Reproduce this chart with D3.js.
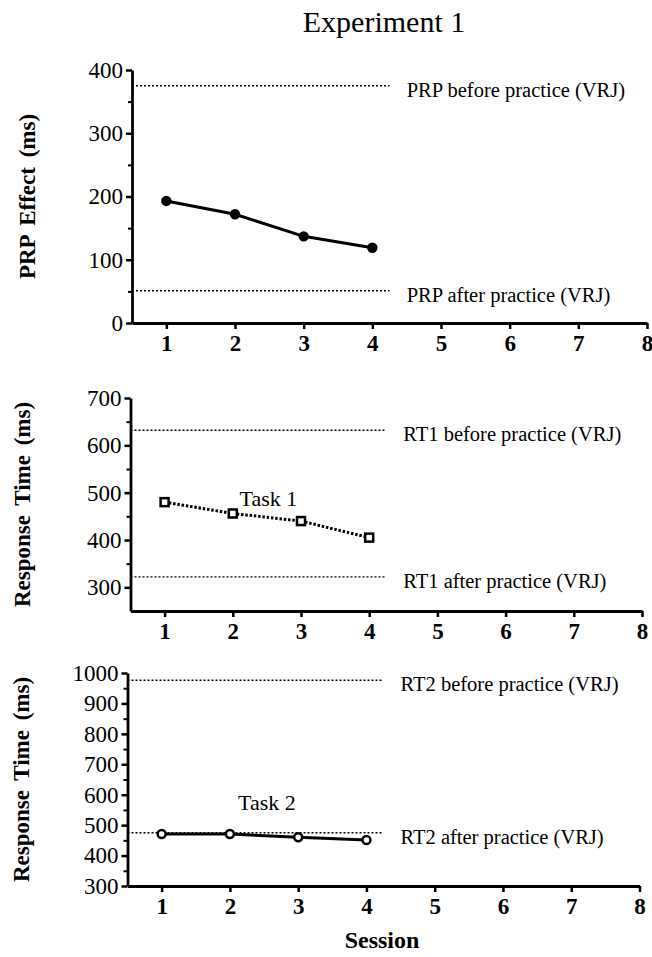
<!DOCTYPE html>
<html><head><meta charset="utf-8">
<script src="https://cdn.jsdelivr.net/npm/d3@7"></script>
<style>
body{margin:0;background:#fff;}
svg, svg text{font-family:"Liberation Serif","Times New Roman",serif !important;}
</style></head>
<body>
<svg id="chart" width="652" height="957"></svg>
<script>
// ---- data ----
const sessions = [1, 2, 3, 4];
const xTicks = [1, 2, 3, 4, 5, 6, 7, 8];
const prpEffect = [193, 172, 137, 119];
const rt1 = [480, 456, 440, 405];
const rt2 = [471, 471, 460, 451];
const prpRef = [375, 51];
const rt1Ref = [632, 322];
const rt2Ref = [976, 475];
const prpRefLabels = ["PRP before practice (VRJ)", "PRP after practice (VRJ)"];
const rt1RefLabels = ["RT1 before practice (VRJ)", "RT1 after practice (VRJ)"];
const rt2RefLabels = ["RT2 before practice (VRJ)", "RT2 after practice (VRJ)"];
const prpTicks = [0, 100, 200, 300, 400];
const rt1Ticks = [300, 400, 500, 600, 700];
const rt2Ticks = [300, 400, 500, 600, 700, 800, 900, 1000];

const svg = d3.select("#chart");

svg.append("text").attr("x", 384).attr("y", 32).attr("text-anchor", "middle")
  .attr("font-size", 30).text("Experiment 1");

function panel(cfg) {
  const x = d3.scaleLinear().domain([0.5, 8]).range([cfg.left, cfg.right]);
  const y = d3.scaleLinear().domain(cfg.yDomain).range([cfg.bottom, cfg.top]);
  const g = svg.append("g");

  // reference lines
  cfg.refs.forEach((v, i) => {
    g.append("line").attr("x1", x(0.5)).attr("x2", x(4.25))
      .attr("y1", y(v)).attr("y2", y(v))
      .attr("stroke", "#000").attr("stroke-width", 1.4).attr("stroke-dasharray", "2,2");
    g.append("text").attr("x", x(4.5)).attr("y", y(v) + 11)
      .attr("font-size", 20.5).text(cfg.refLabels[i]);
  });

  // minor ticks
  const minor = d3.range(cfg.yDomain[0], cfg.yDomain[1], 50).filter(v => v % 100 !== 0 && v > cfg.yDomain[0]);
  const minorAxis = d3.axisLeft(y).tickValues(minor).tickSize(4).tickFormat("").tickSizeOuter(0);
  const ma = g.append("g").attr("transform", `translate(${cfg.left},0)`).call(minorAxis);
  ma.select(".domain").remove();
  ma.selectAll("line").attr("stroke-width", 2);

  // y axis
  const ya = g.append("g").attr("transform", `translate(${cfg.left},0)`)
    .call(d3.axisLeft(y).tickValues(cfg.yTicks).tickFormat(d3.format("d"))
      .tickSize(6).tickPadding(3).tickSizeOuter(0));
  ya.select(".domain").attr("stroke-width", 2.8);
  ya.selectAll(".tick line").attr("stroke-width", 2.5);
  ya.selectAll(".tick text").attr("font-size", 23).attr("fill", "#000");

  // x axis
  const xa = g.append("g").attr("transform", `translate(0,${cfg.bottom})`)
    .call(d3.axisBottom(x).tickValues(xTicks).tickSize(6).tickPadding(6).tickSizeOuter(0));
  xa.select(".domain").attr("stroke-width", 2.8);
  xa.selectAll(".tick line").attr("stroke-width", 2.5);
  xa.selectAll(".tick text").attr("font-size", 23).attr("font-weight", "bold").attr("fill", "#000");

  // y title
  g.append("text").attr("transform", `translate(${cfg.titleX},${(cfg.top + cfg.bottom) / 2}) rotate(-90)`)
    .attr("text-anchor", "middle").attr("dominant-baseline", "central")
    .attr("font-size", 23).attr("font-weight", "bold").attr("word-spacing", 4).text(cfg.yTitle);

  // data line
  const line = d3.line().x((d, i) => x(sessions[i])).y(d => y(d));
  const path = g.append("path").datum(cfg.values).attr("d", line)
    .attr("fill", "none").attr("stroke", "#000").attr("stroke-width", 3);
  if (cfg.dotted) path.attr("stroke-dasharray", "2.5,1.8");

  if (cfg.marker === "filled") {
    g.selectAll(".m").data(cfg.values).enter().append("circle")
      .attr("cx", (d, i) => x(sessions[i])).attr("cy", d => y(d)).attr("r", 5.2).attr("fill", "#000");
  } else if (cfg.marker === "square") {
    g.selectAll(".m").data(cfg.values).enter().append("rect")
      .attr("x", (d, i) => x(sessions[i]) - 4).attr("y", d => y(d) - 4)
      .attr("width", 8).attr("height", 8).attr("fill", "#fff").attr("stroke", "#000").attr("stroke-width", 2.5);
  } else {
    g.selectAll(".m").data(cfg.values).enter().append("circle")
      .attr("cx", (d, i) => x(sessions[i])).attr("cy", d => y(d)).attr("r", 4)
      .attr("fill", "#fff").attr("stroke", "#000").attr("stroke-width", 2.5);
  }

  if (cfg.task) {
    g.append("text").attr("x", x(cfg.task.x)).attr("y", y(cfg.task.y))
      .attr("font-size", 22).text(cfg.task.label);
  }
  return {x, y};
}

panel({left: 132, right: 647, top: 70, bottom: 323, yDomain: [0, 400], yTicks: prpTicks,
  refs: prpRef, refLabels: prpRefLabels, values: prpEffect, marker: "filled",
  yTitle: "PRP Effect (ms)", titleX: 27});
panel({left: 130.5, right: 642, top: 398, bottom: 611, yDomain: [250, 700], yTicks: rt1Ticks,
  refs: rt1Ref, refLabels: rt1RefLabels, values: rt1, marker: "square", dotted: true,
  yTitle: "Response Time (ms)", titleX: 22, task: {x: 2.1, y: 471, label: "Task 1"}});
panel({left: 127.5, right: 639.5, top: 673, bottom: 886, yDomain: [300, 1000], yTicks: rt2Ticks,
  refs: rt2Ref, refLabels: rt2RefLabels, values: rt2, marker: "open",
  yTitle: "Response Time (ms)", titleX: 21, task: {x: 2.12, y: 550, label: "Task 2"}});

svg.append("text").attr("x", 382).attr("y", 948).attr("text-anchor", "middle")
  .attr("font-size", 24).attr("font-weight", "bold").text("Session");
</script>
</body></html>
